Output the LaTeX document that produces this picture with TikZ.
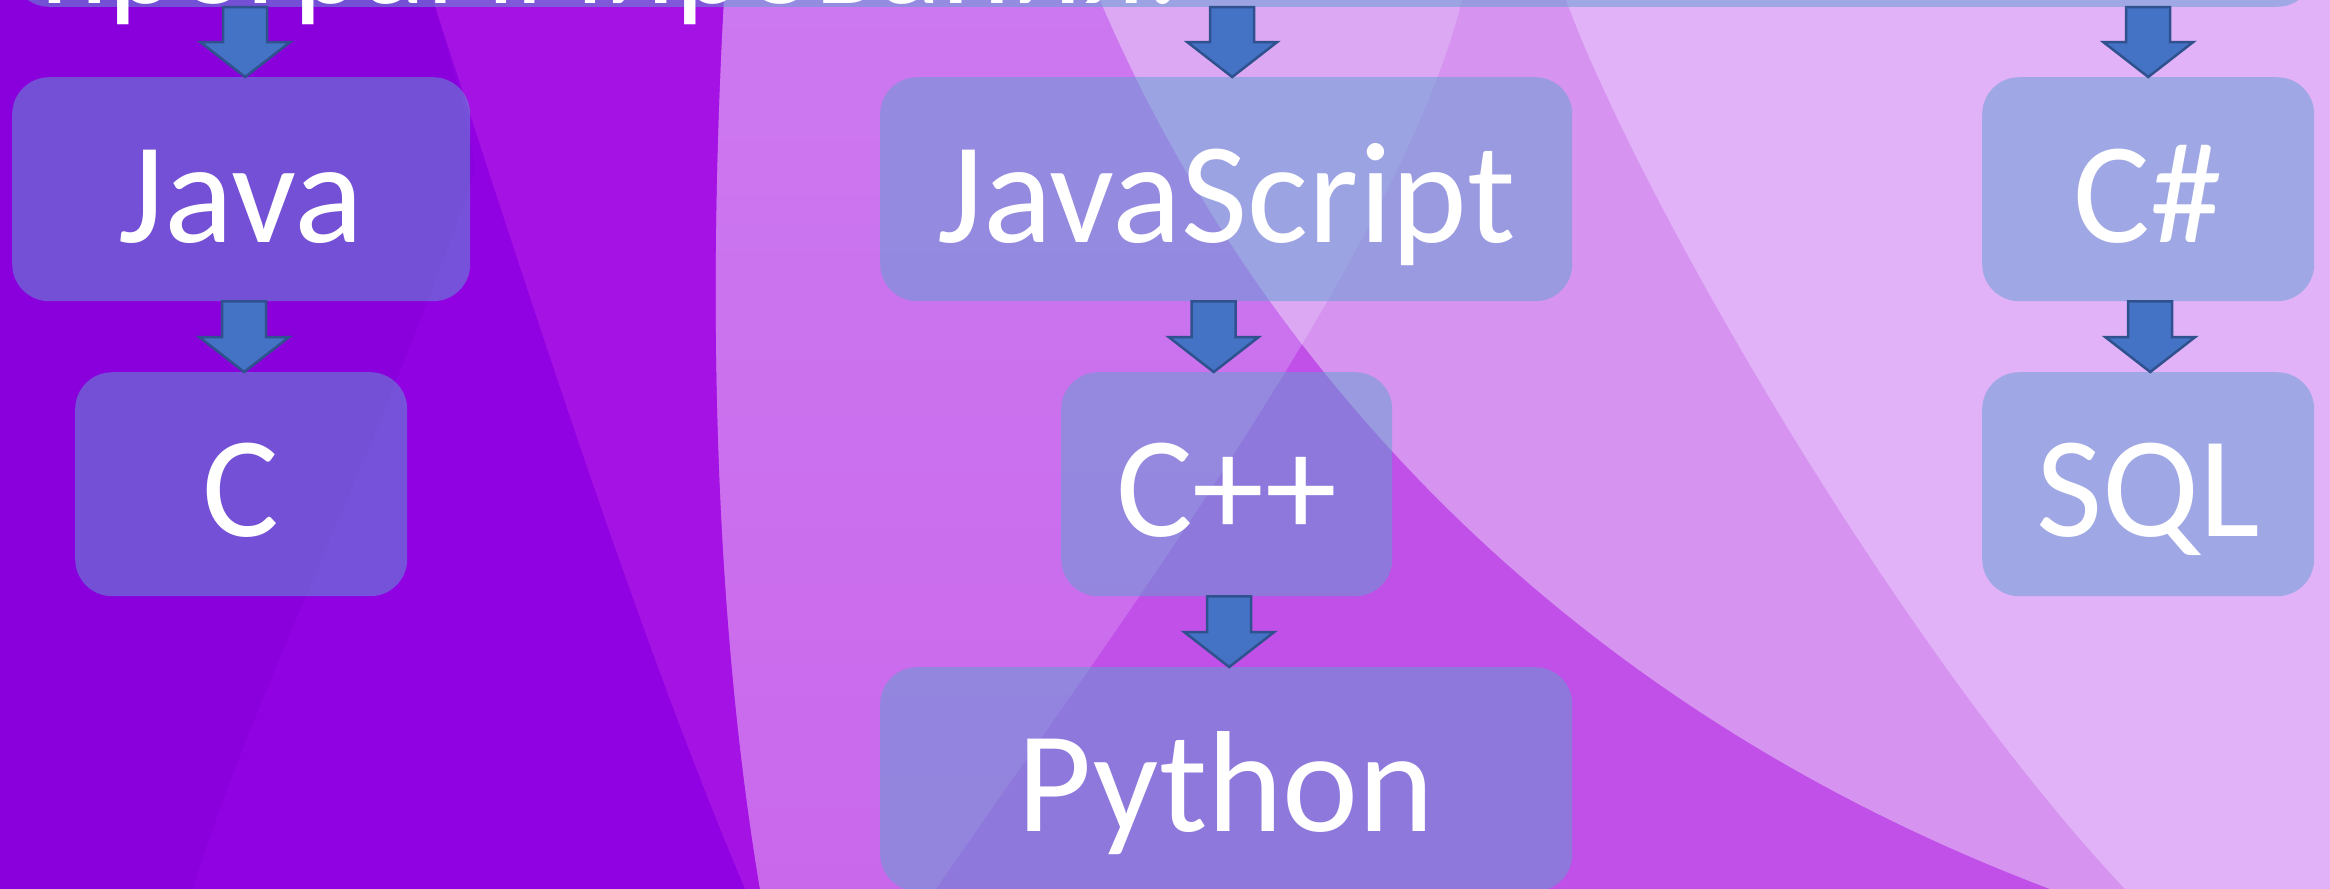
\documentclass[tikz,border=0pt]{standalone}
\usepackage{fontspec}
\setmainfont{Carlito}
\usetikzlibrary{calc}
\definecolor{bgdark}{HTML}{8A00DC}
\definecolor{bgdark2}{HTML}{9002E2}
\definecolor{bgviolet}{HTML}{A412E4}
\definecolor{bgpinktop}{HTML}{CC78F0}
\definecolor{bgpinkbot}{HTML}{CA68EC}
\definecolor{bgmagenta}{HTML}{C050E8}
\definecolor{bglight}{HTML}{D694F0}
\definecolor{bglighter}{HTML}{DCA8F4}
\definecolor{bglav}{HTML}{E2B2F8}
\definecolor{boxfill}{RGB}{94,160,210}
\definecolor{arrfill}{HTML}{4472C4}
\definecolor{arrline}{HTML}{2F528F}
\tikzset{
  langbox/.style={fill=boxfill, fill opacity=0.5, text opacity=1, text=white,
    rounded corners=37pt, inner sep=0pt, minimum height=224pt},
  langtext/.style={text=white, anchor=base, inner sep=0pt,
    font=\fontsize{144}{172}\selectfont},
  blockarrow/.style={fill=arrfill, draw=arrline, line width=2.5pt, line join=miter},
}
% #1 source node, #2 target node, #3 x offset from target centre
\newcommand\blockarr[3]{%
  \path[blockarrow] let \p1=(#1.south), \p2=(#2.north) in
    (\x2+#3-22,\y1) -- (\x2+#3+22,\y1) -- (\x2+#3+22,\y2+35) -- (\x2+#3+45,\y2+35)
    -- (\x2+#3,\y2) -- (\x2+#3-45,\y2+35) -- (\x2+#3-22,\y2+35) -- cycle;}
\begin{document}
\begin{tikzpicture}[x=1pt,y=-1pt]
\useasboundingbox (0,0) rectangle (2330,889);
\clip (0,0) rectangle (2330,889);
% background
\fill[bgdark] (0,0) rectangle (2330,889);
\fill[bgdark2] (433,0) .. controls (450,60) and (470,120) .. (475,171)
   .. controls (380,450) and (250,700) .. (193,889) -- (745,889)
   .. controls (640,640) and (540,330) .. (433,0) -- cycle;
\fill[bgviolet] (433,0) .. controls (540,330) and (640,640) .. (745,889) -- (2330,889) -- (2330,0) -- cycle;
\fill[bgmagenta] (724,0) .. controls (705,350) and (720,650) .. (760,889) -- (2330,889) -- (2330,0) -- cycle;
% swoosh A: between the left edge and the diagonal
\shade[top color=bgpinktop, bottom color=bgpinkbot] (724,0) .. controls (705,350) and (720,650) .. (760,889)
   -- (936,889) .. controls (1100,650) and (1400,250) .. (1462,0) -- cycle;
% swoosh B: right of the long curve
\fill[bglight] (1100,0) .. controls (1250,350) and (1550,700) .. (2050,889) -- (2330,889) -- (2330,0) -- cycle;
% overlap of both swooshes
\begin{scope}
  \clip (724,0) .. controls (705,350) and (720,650) .. (760,889)
   -- (936,889) .. controls (1100,650) and (1400,250) .. (1462,0) -- cycle;
  \fill[bglighter] (1100,0) .. controls (1250,350) and (1550,700) .. (2050,889) -- (2330,889) -- (2330,0) -- cycle;
\end{scope}
\fill[bglav] (1566,0) .. controls (1640,200) and (1900,650) .. (2125,889) -- (2330,889) -- (2330,0) -- cycle;
% title bar
\node[langbox, anchor=south west, minimum width=2302pt] (title) at (12,7) {};
\node[anchor=base west, text=white, inner sep=0pt, font=\fontsize{132}{158}\selectfont] (titletext) at (40,3) {программирования:};
% boxes
\node[langbox, minimum width=458pt, anchor=north west] (java) at (12,77) {};
\node[langtext] (javat) at ($(java.north)+(0,165)$) {Java};
\node[langbox, minimum width=332pt, anchor=north west] (c) at (75,372) {};
\node[langtext] (ct) at ($(c.north)+(0,164)$) {C};
\node[langbox, minimum width=692pt, anchor=north west] (js) at (880,77) {};
\node[langtext] (jst) at ($(js.north)+(0,165)$) {JavaScript};
\node[langbox, minimum width=331pt, anchor=north west] (cpp) at (1061,372) {};
\node[langtext] (cppt) at ($(cpp.north)+(0,164)$) {C++};
\node[langbox, minimum width=692pt, anchor=north west] (py) at (880,667) {};
\node[langtext] (pyt) at ($(py.north)+(0,164)$) {Python};
\node[langbox, minimum width=332pt, anchor=north west] (cs) at (1982,77) {};
\node[langtext] (cst) at ($(cs.north)+(0,165)$) {C\#};
\node[langbox, minimum width=332pt, anchor=north west] (sql) at (1982,372) {};
\node[langtext] (sqlt) at ($(sql.north)+(0,164)$) {SQL};
% arrows
\blockarr{title}{java}{4}
\blockarr{java}{c}{3}
\blockarr{title}{js}{6}
\blockarr{js}{cpp}{-13}
\blockarr{cpp}{py}{3}
\blockarr{title}{cs}{0}
\blockarr{cs}{sql}{2}
\end{tikzpicture}
\end{document}
